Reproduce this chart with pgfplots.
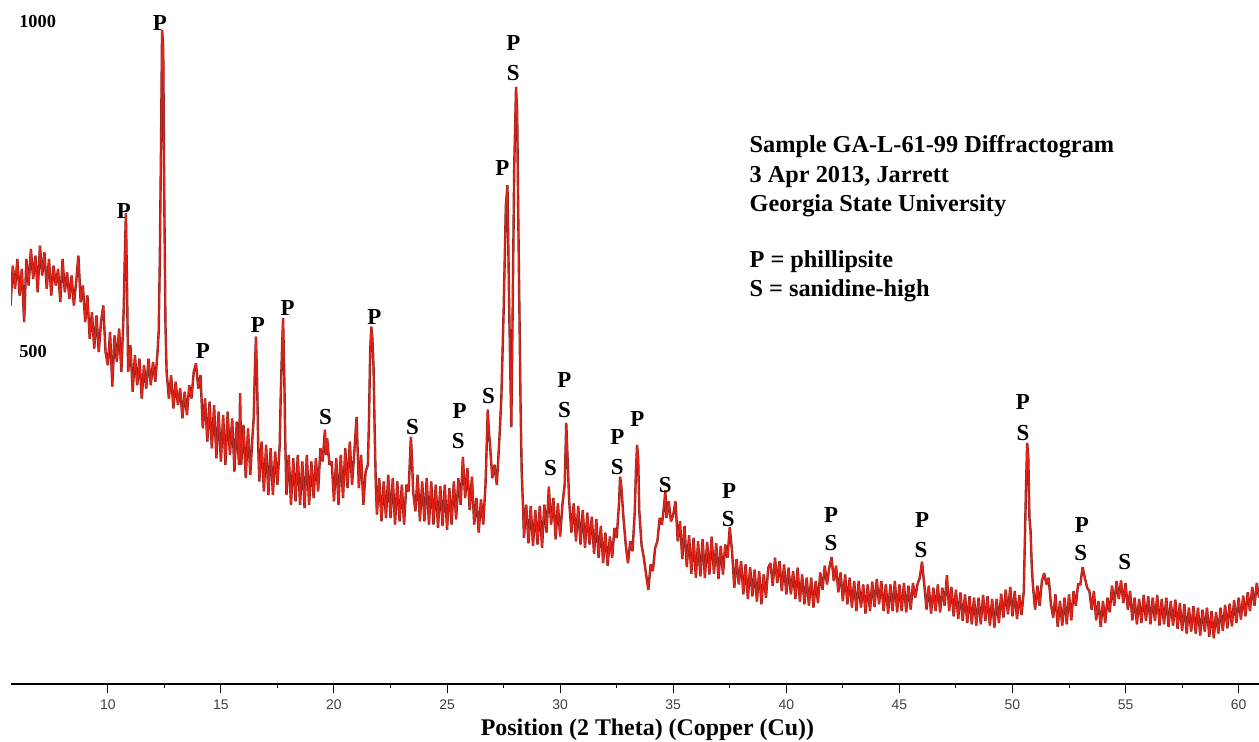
\documentclass[border=0pt]{standalone}
\usepackage{fontspec}
\setmainfont{Liberation Serif}
\newfontfamily\lsans{Liberation Sans}
\usepackage{pgfplots}
\pgfplotsset{compat=1.18}

\definecolor{trace}{RGB}{232,36,24}
\definecolor{tracedark}{RGB}{140,32,28}

\pgfplotstableread{
x y
5.7 570
5.8 630
5.9 595
6.0 640
6.1 585
6.2 625
6.3 545
6.4 640
6.5 600
6.6 655
6.7 610
6.8 645
6.9 590
7.0 660
7.1 615
7.2 650
7.3 595
7.4 640
7.5 585
7.6 630
7.7 600
7.8 625
7.9 575
8.0 640
8.1 590
8.2 620
8.3 580
8.4 615
8.5 570
8.6 605
8.7 645
8.8 575
8.9 600
9.0 545
9.1 585
9.2 520
9.3 560
9.4 505
9.5 555
9.6 500
9.7 545
9.8 570
9.9 500
10.0 480
10.1 530
10.2 448
10.3 525
10.4 485
10.5 535
10.6 470
10.7 560
10.75 640
10.8 709
10.85 600
10.9 470
11.0 510
11.1 440
11.2 495
11.3 450
11.4 490
11.5 430
11.6 480
11.7 445
11.8 490
11.9 450
12.0 485
12.1 455
12.2 500
12.25 530
12.3 640
12.35 800
12.4 985
12.45 960
12.5 720
12.55 540
12.6 470
12.7 430
12.8 465
12.9 415
13.0 455
13.1 420
13.2 445
13.3 400
13.4 440
13.5 405
13.6 450
13.7 430
13.8 470
13.9 483
14.0 445
14.1 465
14.2 385
14.3 430
14.4 365
14.5 425
14.6 355
14.7 420
14.8 340
14.9 410
15.0 335
15.1 405
15.2 330
15.3 410
15.4 345
15.5 400
15.6 320
15.7 395
15.8 330
15.85 438
15.9 330
16.0 390
16.1 310
16.2 385
16.3 315
16.4 375
16.45 400
16.5 470
16.55 523
16.6 460
16.65 360
16.7 305
16.8 365
16.9 290
17.0 360
17.1 285
17.2 355
17.3 285
17.4 350
17.5 300
17.6 360
17.65 440
17.7 500
17.75 551
17.8 470
17.85 360
17.9 285
18.0 345
18.1 270
18.2 340
18.3 275
18.4 345
18.5 270
18.6 335
18.7 265
18.8 345
18.9 270
19.0 335
19.1 280
19.2 340
19.3 290
19.4 355
19.5 335
19.6 383
19.65 345
19.7 370
19.8 330
19.9 335
20.0 275
20.1 340
20.2 270
20.3 345
20.4 280
20.5 355
20.6 295
20.7 365
20.8 300
20.9 350
21.0 402
21.1 295
21.2 345
21.3 270
21.4 320
21.5 330
21.55 400
21.6 500
21.65 538
21.7 520
21.75 477
21.8 380
21.85 300
21.9 255
22.0 310
22.1 245
22.2 305
22.3 250
22.4 315
22.5 250
22.6 310
22.7 240
22.8 305
22.9 245
23.0 300
23.1 240
23.2 300
23.3 290
23.4 372
23.45 340
23.5 290
23.6 260
23.7 315
23.8 245
23.9 305
24.0 245
24.1 310
24.2 240
24.3 305
24.4 240
24.5 300
24.6 235
24.7 298
24.8 238
24.9 300
25.0 232
25.1 295
25.2 240
25.3 305
25.4 248
25.5 310
25.6 270
25.7 342
25.8 280
25.9 325
26.0 262
26.1 312
26.2 240
26.3 280
26.4 228
26.5 278
26.6 240
26.7 300
26.8 413
26.85 380
26.9 360
27.0 310
27.1 330
27.2 300
27.3 360
27.4 430
27.5 560
27.6 720
27.67 751
27.75 560
27.84 387
27.9 560
27.97 780
28.05 899
28.1 860
28.15 700
28.2 560
28.25 420
28.3 320
28.37 257
28.4 220
28.5 270
28.6 212
28.7 268
28.8 208
28.9 262
29.0 210
29.1 268
29.2 205
29.3 270
29.4 228
29.5 297
29.6 240
29.7 280
29.8 218
29.9 272
30.0 222
30.1 270
30.2 300
30.27 393
30.35 320
30.4 275
30.5 228
30.6 272
30.7 215
30.8 268
30.9 210
31.0 262
31.1 205
31.2 258
31.3 210
31.4 252
31.5 196
31.6 248
31.7 190
31.8 238
31.9 182
32.0 228
32.1 178
32.2 222
32.3 190
32.4 235
32.5 220
32.6 270
32.65 312
32.7 300
32.8 250
32.9 210
33.0 182
33.1 215
33.2 200
33.3 260
33.35 320
33.4 360
33.45 340
33.5 260
33.6 209
33.7 190
33.8 165
33.9 142
34.0 180
34.1 170
34.2 205
34.3 215
34.4 250
34.5 240
34.6 270
34.65 292
34.7 250
34.8 275
34.9 245
35.0 255
35.1 275
35.2 215
35.3 245
35.4 188
35.5 238
35.6 176
35.7 224
35.8 166
35.9 220
36.0 160
36.1 215
36.2 162
36.3 218
36.4 160
36.5 214
36.6 165
36.7 222
36.8 166
36.9 212
37.0 158
37.1 208
37.2 165
37.3 210
37.4 190
37.5 236
37.6 200
37.7 145
37.8 188
37.9 150
38.0 185
38.1 135
38.2 180
38.3 128
38.4 176
38.5 132
38.6 172
38.7 124
38.8 170
38.9 120
39.0 165
39.1 130
39.2 175
39.3 182
39.4 148
39.5 190
39.6 152
39.7 185
39.8 140
39.9 180
40.0 135
40.1 175
40.2 135
40.3 170
40.4 128
40.5 175
40.6 124
40.7 165
40.8 120
40.9 160
41.0 118
41.1 160
41.2 115
41.3 155
41.4 122
41.5 168
41.6 142
41.7 178
41.8 150
41.9 175
42.0 191
42.1 155
42.2 178
42.3 138
42.4 168
42.5 125
42.6 165
42.7 120
42.8 160
42.9 115
43.0 155
43.1 110
43.2 155
43.3 115
43.4 150
43.5 106
43.6 150
43.7 110
43.8 154
43.9 116
44.0 158
44.1 120
44.2 155
44.3 110
44.4 150
44.5 106
44.6 150
44.7 110
44.8 155
44.9 108
45.0 150
45.1 110
45.2 152
45.3 108
45.4 148
45.5 112
45.6 152
45.7 130
45.8 150
45.9 160
46.0 184
46.1 150
46.2 112
46.3 148
46.4 106
46.5 145
46.6 110
46.7 150
46.8 108
46.9 145
47.0 118
47.1 164
47.2 110
47.3 146
47.4 102
47.5 142
47.6 98
47.7 138
47.8 95
47.9 135
48.0 92
48.1 132
48.2 90
48.3 130
48.4 88
48.5 130
48.6 90
48.7 134
48.8 95
48.9 132
49.0 88
49.1 128
49.2 85
49.3 128
49.4 92
49.5 136
49.6 100
49.7 142
49.8 105
49.9 146
50.0 102
50.1 140
50.2 98
50.3 134
50.4 104
50.5 140
50.55 220
50.6 300
50.65 363
50.7 340
50.75 250
50.8 230
50.85 180
50.9 150
51.0 112
51.1 148
51.2 118
51.3 155
51.4 167
51.5 150
51.6 160
51.7 120
51.8 100
51.9 135
52.0 86
52.1 125
52.2 88
52.3 130
52.4 90
52.5 135
52.6 96
52.7 140
52.8 118
52.9 150
53.0 150
53.1 176
53.2 160
53.3 145
53.4 140
53.5 112
53.6 140
53.7 96
53.8 125
53.9 86
54.0 125
54.1 92
54.2 130
54.3 108
54.4 148
54.5 118
54.6 155
54.7 128
54.8 156
54.9 122
55.0 152
55.1 112
55.2 140
55.3 96
55.4 130
55.5 90
55.6 128
55.7 92
55.8 134
55.9 95
56.0 132
56.1 90
56.2 130
56.3 95
56.4 134
56.5 88
56.6 128
56.7 90
56.8 130
56.9 86
57.0 125
57.1 88
57.2 127
57.3 83
57.4 122
57.5 80
57.6 120
57.7 76
57.8 115
57.9 79
58.0 117
58.1 76
58.2 115
58.3 73
58.4 112
58.5 79
58.6 115
58.7 71
58.8 110
58.9 69
59.0 108
59.1 76
59.2 115
59.3 80
59.4 119
59.5 84
59.6 121
59.7 87
59.8 126
59.9 92
60.0 130
60.1 97
60.2 133
60.3 102
60.4 138
60.5 110
60.6 146
60.7 118
60.8 152
60.9 130
}\scan

\begin{document}
\begin{tikzpicture}
\begin{axis}[
  scale only axis,
  width=624bp, height=342bp,
  xmin=5.72, xmax=60.9,
  ymin=0, ymax=1030,
  axis x line=bottom,
  axis y line=none,
  x axis line style={-, line width=0.6bp},
  xtick={10,15,...,60},
  minor x tick num=1,
  tick align=outside,
  major tick length=4.5bp,
  minor tick length=2bp,
  every tick/.style={black, line width=0.5bp},
  /pgf/number format/assume math mode=true,
  tick label style={font=\lsans\fontsize{7}{8}\selectfont, text=black!75},
  xlabel={Position (2 Theta) (Copper (Cu))},
  xlabel style={font=\bfseries\fontsize{12}{14}\selectfont, at={(rel axis cs:0.51,0)}, anchor=base, yshift=-25.5bp},
  clip=true,
]
% dark outline of the trace, then the red trace on top
\addplot[color=tracedark, line width=1.2bp, line join=miter, miter limit=2] table {\scan};
\addplot[color=trace, line width=0.65bp, line join=miter, miter limit=2] table {\scan};

% intensity marks written inside the plot area
\node[anchor=west, font=\bfseries\fontsize{9.2}{10}\selectfont, inner sep=0] at (axis cs:6.07,997) {1000};
\node[anchor=west, font=\bfseries\fontsize{9.2}{10}\selectfont, inner sep=0] at (axis cs:6.07,500) {500};

% peak identifications
\begin{scope}[every node/.style={font=\bfseries\fontsize{11.5}{12}\selectfont, inner sep=0}]
\node at (axis cs:10.71,712) {P};
\node at (axis cs:12.30,995) {P};
\node at (axis cs:14.20,501) {P};
\node at (axis cs:16.63,541) {P};
\node at (axis cs:17.95,566) {P};
\node at (axis cs:19.63,402) {S};
\node at (axis cs:21.79,553) {P};
\node at (axis cs:23.47,387) {S};
\node at (axis cs:25.55,411) {P};
\node at (axis cs:25.50,366) {S};
\node at (axis cs:26.83,434) {S};
\node at (axis cs:27.45,777) {P};
\node at (axis cs:27.93,965) {P};
\node at (axis cs:27.93,920) {S};
\node at (axis cs:29.57,325) {S};
\node at (axis cs:30.19,458) {P};
\node at (axis cs:30.19,413) {S};
\node at (axis cs:32.53,372) {P};
\node at (axis cs:32.53,327) {S};
\node at (axis cs:33.41,399) {P};
\node at (axis cs:34.65,300) {S};
\node at (axis cs:37.47,291) {P};
\node at (axis cs:37.43,248) {S};
\node at (axis cs:41.98,255) {P};
\node at (axis cs:41.98,212) {S};
\node at (axis cs:46.00,247) {P};
\node at (axis cs:45.95,202) {S};
\node at (axis cs:50.46,425) {P};
\node at (axis cs:50.46,378) {S};
\node at (axis cs:53.07,239) {P};
\node at (axis cs:53.02,197) {S};
\node at (axis cs:54.96,184) {S};
\end{scope}

% sample description and key
\begin{scope}[every node/.style={anchor=base west, font=\bfseries\fontsize{12.2}{14}\selectfont, inner sep=0}]
\node at (axis cs:38.36,800) {Sample GA-L-61-99 Diffractogram};
\node at (axis cs:38.36,754.5) {3 Apr 2013, Jarrett};
\node at (axis cs:38.36,711) {Georgia State University};
\node at (axis cs:38.36,626.5) {P = phillipsite};
\node at (axis cs:38.36,583) {S = sanidine-high};
\end{scope}
\end{axis}
\pgfresetboundingbox
\path ([xshift=-5.5bp,yshift=-29bp]current axis.south west) rectangle (current axis.north east);
\end{tikzpicture}
\end{document}
